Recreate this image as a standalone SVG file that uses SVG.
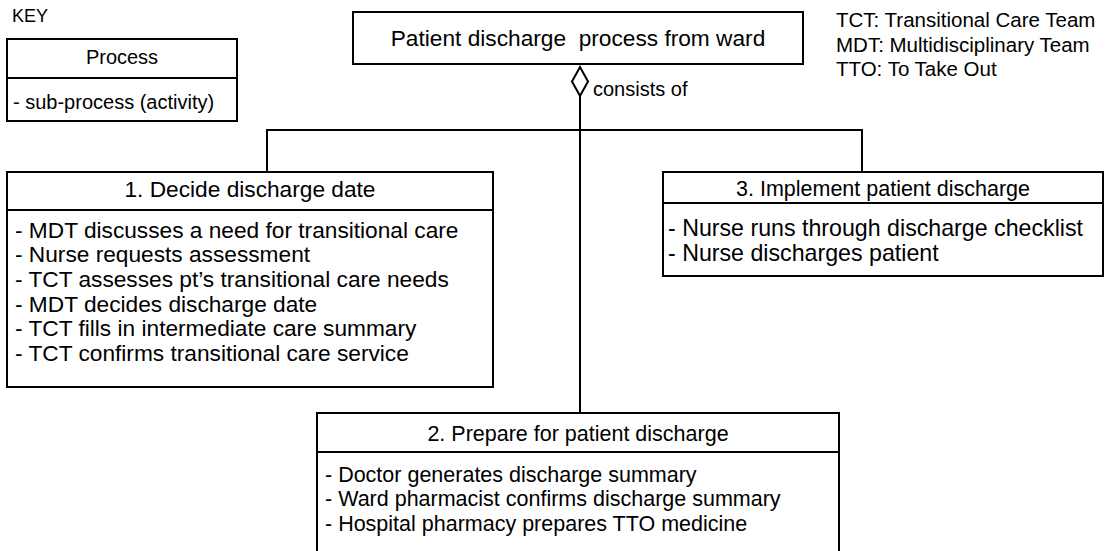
<svg xmlns="http://www.w3.org/2000/svg" width="1114" height="551" viewBox="0 0 1114 551">
<style>
text{font-family:"Liberation Sans",Arial,sans-serif;font-size:22px;fill:#000}
.c{text-anchor:middle}
.k{font-size:20px}
.ab{font-size:20.5px}
.b1{font-size:22.7px}
.b2{font-size:21.5px}
.b3{font-size:23.2px}
.box{fill:#fff;stroke:#000;stroke-width:2}
.ln{fill:none;stroke:#000;stroke-width:2}
</style>
<rect width="1114" height="551" fill="#fff"/>
<g id="key">
<text x="12" y="22" style="font-size:18px">KEY</text>
<rect class="box" x="7" y="39" width="230" height="82"/>
<line class="ln" x1="7" y1="78" x2="237" y2="78"/>
<text class="c k" x="122" y="64">Process</text>
<text class="k" x="13" y="109">- sub-process (activity)</text>
</g>
<g id="abbrev">
<text class="ab" x="836" y="27">TCT: Transitional Care Team</text>
<text class="ab" x="836" y="52">MDT: Multidisciplinary Team</text>
<text class="ab" x="836" y="76">TTO: To Take Out</text>
</g>
<g id="connectors">
<polyline class="ln" points="267,172 267,130 862,130 862,172"/>
<line class="ln" x1="580" y1="96" x2="580" y2="413"/>
<polygon points="580,67 588,81.5 580,96 572,81.5" fill="#fff" stroke="#000" stroke-width="2"/>
<text x="593" y="96" style="font-size:20px">consists of</text>
</g>
<g id="root">
<rect class="box" x="353" y="12" width="450" height="52"/>
<text class="c" x="578" y="46" xml:space="preserve" style="font-size:22.7px">Patient discharge  process from ward</text>
</g>
<g id="p1">
<rect class="box" x="7" y="172" width="486" height="215"/>
<line class="ln" x1="7" y1="210" x2="493" y2="210"/>
<text class="c b1" x="250" y="197">1. Decide discharge date</text>
<text class="b1" x="15" y="238">- MDT discusses a need for transitional care</text>
<text class="b1" x="15" y="262">- Nurse requests assessment</text>
<text class="b1" x="15" y="287">- TCT assesses pt’s transitional care needs</text>
<text class="b1" x="15" y="312">- MDT decides discharge date</text>
<text class="b1" x="15" y="336">- TCT fills in intermediate care summary</text>
<text class="b1" x="15" y="361">- TCT confirms transitional care service</text>
</g>
<g id="p3">
<rect class="box" x="663" y="172" width="440" height="104"/>
<line class="ln" x1="663" y1="203" x2="1103" y2="203"/>
<text class="c b2" x="883" y="196">3. Implement patient discharge</text>
<text class="b3" x="668" y="236">- Nurse runs through discharge checklist</text>
<text class="b3" x="668" y="261">- Nurse discharges patient</text>
</g>
<g id="p2">
<path class="box" d="M317,560 V413 H839 V560"/>
<line class="ln" x1="317" y1="452" x2="839" y2="452"/>
<text class="c b2" x="578" y="441">2. Prepare for patient discharge</text>
<text class="b2" x="325" y="482">- Doctor generates discharge summary</text>
<text class="b2" x="325" y="506">- Ward pharmacist confirms discharge summary</text>
<text class="b2" x="325" y="531">- Hospital pharmacy prepares TTO medicine</text>
</g>
</svg>
